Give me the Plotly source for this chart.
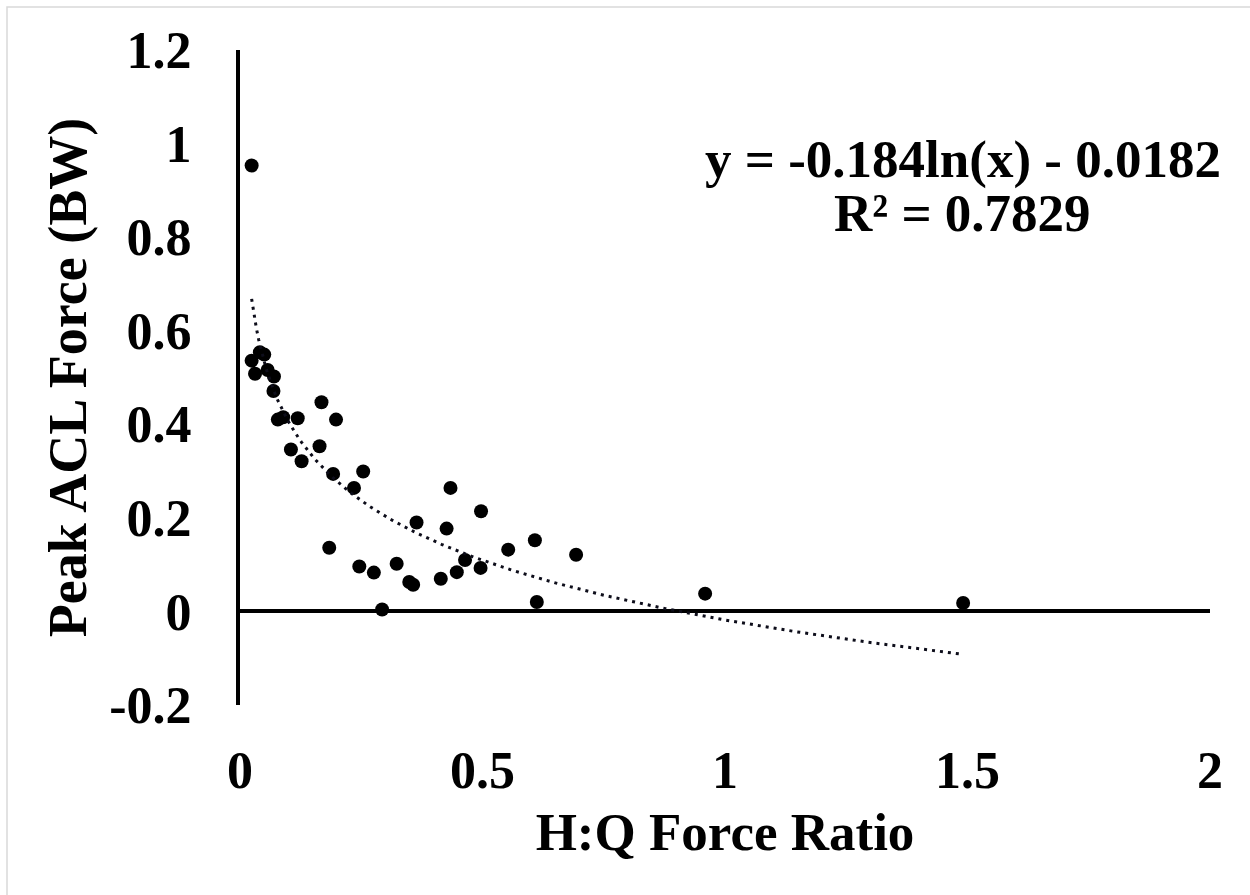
import numpy as np
import plotly.graph_objects as go

# H:Q force ratio (x) and peak ACL force in body weights (y)
hq_ratio = [0.024, 0.024, 0.031, 0.041, 0.050, 0.057, 0.070, 0.069, 0.078, 0.089,
            0.119, 0.168, 0.198, 0.105, 0.127, 0.164, 0.192, 0.254, 0.235, 0.184,
            0.246, 0.276, 0.323, 0.349, 0.357, 0.293, 0.364, 0.426, 0.434, 0.414,
            0.447, 0.464, 0.496, 0.497, 0.553, 0.608, 0.612, 0.693, 0.959, 1.491]
acl_force = [0.953, 0.536, 0.508, 0.554, 0.549, 0.516, 0.502, 0.471, 0.410, 0.415,
             0.413, 0.447, 0.410, 0.346, 0.321, 0.353, 0.294, 0.299, 0.264, 0.136,
             0.096, 0.083, 0.102, 0.063, 0.057, 0.004, 0.190, 0.177, 0.264, 0.070,
             0.084, 0.110, 0.093, 0.214, 0.132, 0.152, 0.020, 0.121, 0.038, 0.018]

# logarithmic trendline coefficients shown on the chart
trend_a = -0.184
trend_b = -0.0182
eq_lines = ["y = -0.184ln(x) - 0.0182", "R² = 0.7829"]

x_ticks = [0, 0.5, 1, 1.5, 2]
y_ticks = [-0.2, 0, 0.2, 0.4, 0.6, 0.8, 1, 1.2]

FONT = "Times New Roman, Liberation Serif, serif"

tx = np.linspace(min(hq_ratio), max(hq_ratio), 300)
ty = trend_a * np.log(tx) + trend_b

fig = go.Figure()
fig.add_trace(go.Scatter(
    x=hq_ratio, y=acl_force, mode="markers",
    marker=dict(color="black", size=14, line=dict(width=0)),
    showlegend=False, hoverinfo="x+y"))
fig.add_trace(go.Scatter(
    x=tx, y=ty, mode="lines",
    line=dict(color="#0d0d1a", width=3, dash="3px,5px"),
    showlegend=False, hoverinfo="skip"))

fig.add_annotation(x=1.49, y=0.966, xref="x", yref="y", text=eq_lines[0],
                   showarrow=False, xanchor="center", yanchor="middle",
                   font=dict(family=FONT, size=53, color="black", weight="bold"))
fig.add_annotation(x=1.49, y=0.852, xref="x", yref="y", text=eq_lines[1],
                   showarrow=False, xanchor="center", yanchor="middle",
                   font=dict(family=FONT, size=53, color="black", weight="bold"))

# light chart-area border (top/left visible)
fig.add_shape(type="rect", xref="paper", yref="paper",
              x0=(7 - 240) / 970, x1=(1400 - 240) / 970,
              y0=(705 - 1000) / 655, y1=(705 - 7) / 655,
              line=dict(color="#d9d9d9", width=1.5), layer="below")

fig.update_layout(
    width=1250, height=895,
    margin=dict(l=240, r=40, t=50, b=190, autoexpand=False),
    paper_bgcolor="white", plot_bgcolor="white",
    font=dict(family=FONT, size=52, color="black", weight="bold"),
    xaxis=dict(range=[0, 2], tickvals=x_ticks, ticktext=[str(v) for v in x_ticks],
               showgrid=False, zeroline=False, showline=False, ticks="",
               ticklabelstandoff=30,
               tickfont=dict(family=FONT, size=52, color="black", weight="bold"),
               title=dict(text="H:Q Force Ratio", standoff=14,
                          font=dict(family=FONT, size=53, color="black", weight="bold"))),
    yaxis=dict(range=[-0.2, 1.2], tickvals=y_ticks,
               ticktext=["-0.2", "0", "0.2", "0.4", "0.6", "0.8", "1", "1.2"],
               showgrid=False, zeroline=True, zerolinecolor="black", zerolinewidth=4,
               showline=True, linecolor="black", linewidth=4, ticks="",
               ticklabelstandoff=34,
               tickfont=dict(family=FONT, size=52, color="black", weight="bold"),
               title=dict(text="Peak ACL Force (BW)", standoff=6,
                          font=dict(family=FONT, size=54, color="black", weight="bold"))),
)

fig.write_html("out.html")
